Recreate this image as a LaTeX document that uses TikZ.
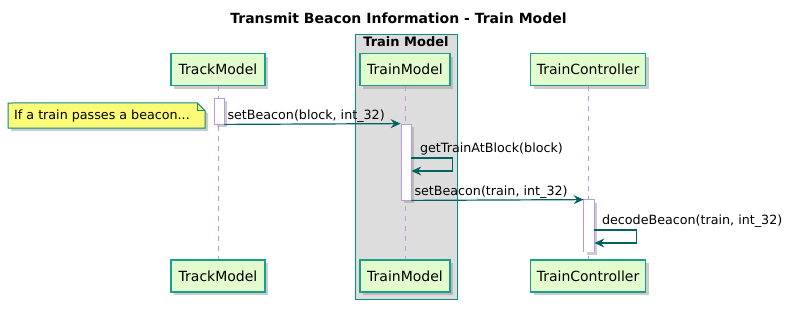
\documentclass[tikz,border=0pt]{standalone}
\usepackage{fontspec}
\setmainfont{DejaVu Sans}
\usetikzlibrary{positioning,arrows.meta,shadows,backgrounds}

\definecolor{partfill}{HTML}{E2FCCE}
\definecolor{partline}{HTML}{1A9E8F}
\definecolor{msgcol}{HTML}{00635F}
\definecolor{lifecol}{HTML}{BC98DE}
\definecolor{notefill}{HTML}{FBFB77}
\definecolor{groupfill}{HTML}{DDDDDD}
\definecolor{groupline}{HTML}{0A8C89}

\tikzset{
	boxshadow/.style={drop shadow={shadow xshift=3pt, shadow yshift=-3pt, fill=black!40, opacity=.5}},
	participant/.style={draw=partline, fill=partfill, line width=1.5pt, minimum height=32pt,
		inner sep=0pt, font=\fontsize{14}{16}\selectfont, boxshadow},
	lifeline/.style={draw=lifecol, dash pattern=on 5pt off 5pt, line width=0.8pt},
	activation/.style={draw=lifecol, fill=white, line width=0.8pt, minimum width=10pt,
		inner sep=0pt, boxshadow},
	msg/.style={draw=msgcol, line width=1.2pt, -{Stealth[length=10pt, width=9pt, inset=3.5pt]}},
	msglabel/.style={font=\fontsize{12.7}{15}\selectfont, inner sep=1.5pt, anchor=south west},
}

\begin{document}
\begin{tikzpicture}[x=1pt, y=-1pt]
			\useasboundingbox (0,0) rectangle (793,309);
			\node [font=\bfseries\fontsize{14}{16}\selectfont] (title) at (398.5,18) {Transmit Beacon Information - Train Model};

			% box around the train model
			\node [draw=groupline, fill=groupfill, line width=1pt, minimum width=102pt, minimum height=265pt] (grp) at (406,166.5) {};
			\node [anchor=north, inner sep=2pt, yshift=-1pt, font=\bfseries\fontsize{13}{15}\selectfont] (grptitle) at (grp.north) {Train Model};

			\node [participant, minimum width=94pt] (track) at (218,69.5) {TrackModel};
			\node [participant, minimum width=90pt] (train) at (405,69.5) {TrainModel};
			\node [participant, minimum width=115pt] (ctrl) at (588,69.5) {TrainController};
			\node [participant, minimum width=94pt] (trackb) at (218,276) {TrackModel};
			\node [participant, minimum width=90pt] (trainb) at (405,276) {TrainModel};
			\node [participant, minimum width=115pt] (ctrlb) at (588,276) {TrainController};

			\draw [lifeline] (track) -- (trackb);
			\draw [lifeline] (train) -- (trainb);
			\draw [lifeline] (ctrl) -- (ctrlb);

			\node [activation, minimum height=26pt] (act1) at (219,111) {};
			\node [activation, minimum height=76pt] (act2) at (406,162) {};
			\node [activation, draw=none, minimum height=52pt] (act3) at (589,226) {};
			\draw [lifecol, line width=0.8pt] (act3.south west) |- (act3.north east) -- (act3.south east);

			\node [font=\fontsize{12.7}{15}\selectfont, minimum width=206pt, minimum height=25pt, inner sep=0pt] (note) at (102,115.5) {If a train passes a beacon...};
			\begin{scope}[on background layer]
				\filldraw [fill=notefill, draw=groupline, line width=1pt, boxshadow] (8,103) -- ([xshift=-8pt]note.north east) -- ([yshift=-8pt]note.north east) -- (note.south east) -- (8,128) -- cycle;
				\draw [groupline, line width=1pt] ([xshift=-8pt]note.north east) |- ([yshift=-8pt]note.north east);
			\end{scope}

			\draw [msg] (act1.south east) -- (act2.north west) node [msglabel, pos=0, xshift=1pt] {setBeacon(block, int\_32)};

			\coordinate (getout) at (act2.east |- 0,158);
			\coordinate (getin) at (act2.east |- 0,171);
			\draw [msg] (getout) -| ++(41,13) -- (getin);
			\node [msglabel, xshift=7pt, yshift=1pt] (getlabel) at (getout) {getTrainAtBlock(block)};

			\draw [msg] (act2.south east) -- (act3.north west) node [msglabel, pos=0, xshift=1pt] {setBeacon(train, int\_32)};

			\coordinate (decout) at (act3.east |- 0,230);
			\coordinate (decin) at (act3.east |- 0,243);
			\draw [msg] (decout) -| ++(42,13) -- (decin);
			\node [msglabel, xshift=6pt, yshift=1pt] (declabel) at (decout) {decodeBeacon(train, int\_32)};
		\end{tikzpicture}
\end{document}
